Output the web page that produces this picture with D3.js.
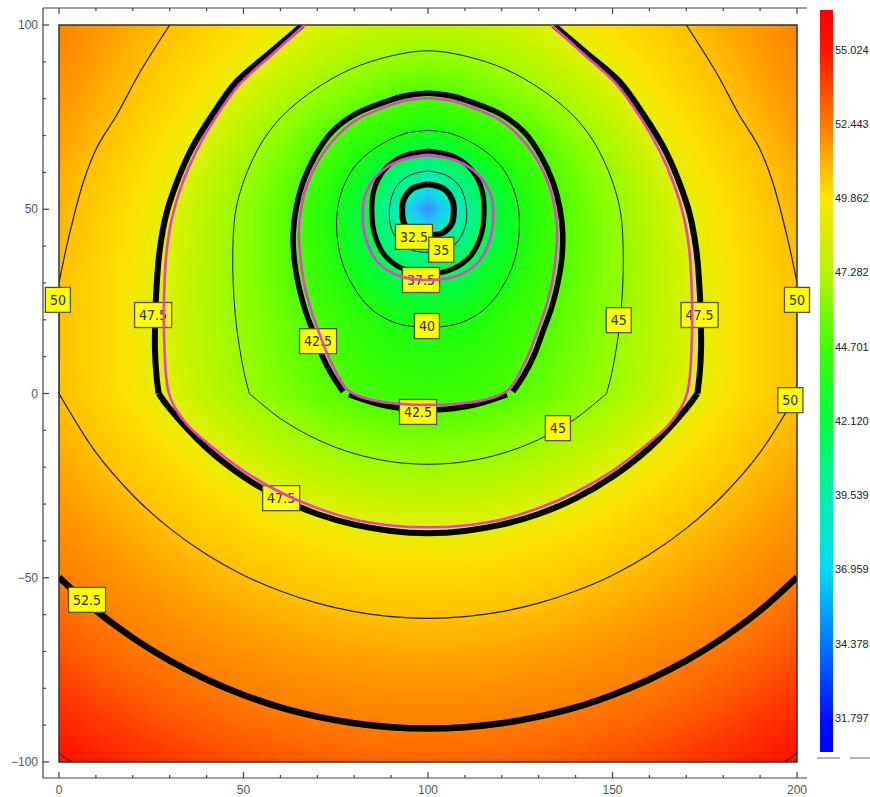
<!DOCTYPE html>
<html>
<head>
<meta charset="utf-8">
<script src="https://cdn.jsdelivr.net/npm/d3@7"></script>
<style>
  body { margin: 0; background: #fff; }
  svg { display: block; }
</style>
</head>
<body>
<script>

    // ---- data ----
    // grid sample positions (x across, y down the rows)
    const gridX = [0,10,20,30,40,50,60,70,80,90,100,110,120,130,140,150,160,170,180,190,200];
    const gridY = [100,90,80,70,60,50,40,30,20,10,0,-10,-20,-30,-40,-50,-60,-70,-80,-90,-100];

    // field values, one row per gridY
    const fieldRows = [
      [52.4,51.6,50.8,50.0,49.3,48.6,47.9,47.2,46.7,46.4,46.3,46.4,46.7,47.2,47.9,48.6,49.3,50.0,50.8,51.6,52.4],
      [52.1,51.25,50.35,49.5,48.65,47.8,47.0,46.2,45.45,44.7,44.35,44.7,45.45,46.2,47.0,47.8,48.65,49.5,50.35,51.25,52.1],
      [51.7,50.8,49.85,48.9,48.0,46.9,45.8,44.7,43.7,42.7,42.1,42.7,43.7,44.7,45.8,46.9,48.0,48.9,49.85,50.8,51.7],
      [51.3,50.3,49.3,48.3,47.27,45.95,44.55,43.0,41.7,40.6,39.4,40.6,41.7,43.0,44.55,45.95,47.27,48.3,49.3,50.3,51.3],
      [50.75,49.8,48.8,47.85,46.6,45.15,43.65,42.0,39.7,37.0,34.9,37.0,39.7,42.0,43.65,45.15,46.6,47.85,48.8,49.8,50.75],
      [50.5,49.45,48.45,47.35,46.05,44.65,43.1,41.15,38.7,34.8,30.6,34.8,38.7,41.15,43.1,44.65,46.05,47.35,48.45,49.45,50.5],
      [50.25,49.25,48.25,47.2,45.95,44.6,43.1,41.25,38.9,36.25,34.6,36.25,38.9,41.25,43.1,44.6,45.95,47.2,48.25,49.25,50.25],
      [50.0,49.05,48.1,47.1,45.85,44.6,43.2,41.65,40.0,38.3,37.85,38.3,40.0,41.65,43.2,44.6,45.85,47.1,48.1,49.05,50.0],
      [50.0,49.05,48.1,47.05,45.95,44.75,43.5,42.25,41.15,40.05,39.65,40.05,41.15,42.25,43.5,44.75,45.95,47.05,48.1,49.05,50.0],
      [50.0,49.05,48.1,47.1,46.0,44.95,43.8,42.7,41.7,41.05,40.8,41.05,41.7,42.7,43.8,44.95,46.0,47.1,48.1,49.05,50.0],
      [50.04,49.16,48.22,47.24,46.22,45.16,44.12,43.15,42.32,41.76,41.56,41.76,42.32,43.15,44.12,45.16,46.22,47.24,48.22,49.16,50.04],
      [50.51,49.70,48.86,48.00,47.12,46.24,45.40,44.65,44.03,43.63,43.49,43.63,44.03,44.65,45.40,46.24,47.12,48.00,48.86,49.70,50.51],
      [51.01,50.28,49.53,48.77,48.02,47.28,46.60,46.00,45.53,45.23,45.12,45.23,45.53,46.00,46.60,47.28,48.02,48.77,49.53,50.28,51.01],
      [51.53,50.87,50.21,49.54,48.89,48.28,47.71,47.23,46.86,46.62,46.54,46.62,46.86,47.23,47.71,48.28,48.89,49.54,50.21,50.87,51.53],
      [52.07,51.47,50.88,50.30,49.74,49.22,48.75,48.35,48.05,47.87,47.80,47.87,48.05,48.35,48.75,49.22,49.74,50.30,50.88,51.47,52.07],
      [52.61,52.08,51.55,51.04,50.55,50.11,49.71,49.38,49.13,48.98,48.93,48.98,49.13,49.38,49.71,50.11,50.55,51.04,51.55,52.08,52.61],
      [53.15,52.67,52.20,51.75,51.33,50.94,50.60,50.33,50.12,49.99,49.95,49.99,50.12,50.33,50.60,50.94,51.33,51.75,52.20,52.67,53.15],
      [53.69,53.25,52.83,52.44,52.06,51.73,51.44,51.20,51.02,50.92,50.88,50.92,51.02,51.20,51.44,51.73,52.06,52.44,52.83,53.25,53.69],
      [54.22,53.82,53.45,53.09,52.77,52.47,52.22,52.01,51.86,51.77,51.74,51.77,51.86,52.01,52.22,52.47,52.77,53.09,53.45,53.82,54.22],
      [54.73,54.38,54.04,53.72,53.43,53.17,52.95,52.77,52.64,52.56,52.53,52.56,52.64,52.77,52.95,53.17,53.43,53.72,54.04,54.38,54.73],
      [55.24,54.92,54.61,54.33,54.07,53.84,53.64,53.48,53.37,53.30,53.27,53.30,53.37,53.48,53.64,53.84,54.07,54.33,54.61,54.92,55.24]
    ];

    // contour lines, [x, y] in data units
    const thick325 = [[[100,56.8],[95.8,55.6],[93.4,52.5],[93,49.5],[93.6,46],[96,43.6],[100,43],[104,43.6],[106.4,46],[107,49.5],[106.6,52.5],[104.2,55.6],[100,56.8]]];
    const thin35 = [[[100,60.4],[95,59.2],[91.3,56],[89.6,50.5],[90,45],[92.4,40.8],[96,38.8],[100,38.3],[104,38.8],[107.6,40.8],[110,45],[110.4,50.5],[108.7,56],[105,59.2],[100,60.4]]];
    const thick375 = [[[100,65.8],[93,64.3],[88,60.5],[85.3,55],[84.8,49],[85.6,43],[88.3,37.5],[93.5,33.7],[100,32.5],[106.5,33.7],[111.7,37.5],[114.4,43],[115.2,49],[114.7,55],[112,60.5],[107,64.3],[100,65.8]]];
    const thin40 = [[[100,71.4],[94,70.6],[88,68],[82.6,64.2],[79,60],[76.4,54.2],[75.3,48.4],[75.5,41.5],[77,34.8],[79.8,29],[83.5,24],[88,20.6],[93.2,18.6],[100,18],[106.8,18.6],[112,20.6],[116.5,24],[120.2,29],[123,34.8],[124.5,41.5],[124.7,48.4],[123.6,54.2],[121,60],[117.4,64.2],[112,68],[106,70.6],[100,71.4]]];
    const thick425 = [
      [[77,0.5],[74,5],[71.2,10.5],[68.9,16.7],[66.6,23],[64.8,30],[63.7,37],[63.5,43.8],[64.3,50.5],[66,57],[69.3,64.3],[74,71],[80.3,75.8],[88,79],[94,80.8],[100,81.5],[106,80.8],[112,79],[119.7,75.8],[126,71],[130.7,64.3],[134,57],[135.7,50.5],[136.5,43.8],[136.3,37],[135.2,30],[133.4,23],[131.1,16.7],[128.8,10.5],[126,5],[123,0.5]],
      [[78.6,-0.3],[80,-0.8],[85,-2.45],[90,-3.6],[95,-4.3],[100,-4.5],[105,-4.3],[110,-3.6],[115,-2.45],[120,-0.8],[121.4,-0.3]]
    ];
    const thin45 = [[[51.6,0],[50.2,5.5],[49,12],[47.8,21],[47.2,30],[47.1,39],[47.7,48.4],[49.2,55],[51.8,62],[55.5,69],[60.7,75.5],[69,82.3],[79,88],[90,91.6],[100,93],[110,91.6],[121,88],[131,82.3],[139.3,75.5],[144.5,69],[148.2,62],[150.8,55],[152.3,48.4],[152.9,39],[152.8,30],[152.2,21],[151,12],[149.8,5.5],[148.4,0]],
      [[51.6,0],[60,-6.8],[70,-12.5],[80,-16.3],[90,-18.5],[100,-19.2],[110,-18.5],[120,-16.3],[130,-12.5],[140,-6.8],[148.4,0]]];
    const thick475 = [
      [[66,100],[57,92.3],[48,84.5],[41.5,75.5],[36,66.5],[32,57.5],[29,48.4],[27.3,39],[26.5,30],[26.1,21],[26,12],[26.4,5],[27,0]],
      [[27,0],[30,-4.1],[40,-14.8],[50,-22.6],[60,-28.45],[70,-32.7],[80,-35.6],[90,-37.3],[100,-37.9],[110,-37.3],[120,-35.6],[130,-32.7],[140,-28.45],[150,-22.6],[160,-14.8],[170,-4.1],[173,0]],
      [[173,0],[173.6,5],[174,12],[173.9,21],[173.5,30],[172.7,39],[171,48.4],[168,57.5],[164,66.5],[158.5,75.5],[152,84.5],[143,92.3],[134,100]]
    ];
    const thin50 = [
      [[30,100],[22,87.3],[15.6,75.5],[10.2,66.6],[6.6,57.4],[3,43.9],[1,35],[0,30]],
      [[0,30],[0,0]],
      [[0,0],[10,-16.0],[20,-27.6],[30,-36.6],[40,-43.7],[50,-49.3],[60,-53.6],[70,-56.9],[80,-59.2],[90,-60.55],[100,-61.0],[110,-60.55],[120,-59.2],[130,-56.9],[140,-53.6],[150,-49.3],[160,-43.7],[170,-36.6],[180,-27.6],[190,-16.0],[200,0]],
      [[200,0],[200,30]],
      [[200,30],[199,35],[197,43.9],[193.4,57.4],[189.8,66.6],[184.4,75.5],[178,87.3],[170,100]]
    ];
    const thick525 = [[[0,-49.9],[10,-58.9],[20,-66.3],[30,-72.5],[40,-77.6],[50,-81.8],[60,-85.2],[70,-87.7],[80,-89.5],[90,-90.55],[100,-90.9],[110,-90.55],[120,-89.5],[130,-87.7],[140,-85.2],[150,-81.8],[160,-77.6],[170,-72.5],[180,-66.3],[190,-58.9],[200,-49.9]]];
    const thin55 = [[[0,-97.5],[1.8,-99],[3.5,-100]], [[196.5,-100],[198.2,-99],[200,-97.5]]];

    // second (pink) set of curves
    const pink375 = [[100,64.7],[92.5,63.3],[86.5,59.5],[83,54],[82.3,48],[83.3,41.5],[86.5,35.5],[92.5,31.8],[100,30.8],[107.5,31.8],[113.5,35.5],[116.7,41.5],[117.7,48],[117,54],[113.5,59.5],[107.5,63.3],[100,64.7]];
    const pink425 = [[100,80.2],[94,79.5],[88,77.6],[80.5,74.2],[75,69.5],[70.2,63],[67.2,56.5],[65.6,50],[65,43.8],[65.4,37],[66.4,30],[68.2,23],[70.4,16.7],[72.8,10.5],[75.5,5],[78,1.2],[81,-0.6],[85,-1.8],[90,-2.6],[95,-3.0],[100,-3.1],[105,-3.0],[110,-2.6],[115,-1.8],[119,-0.6],[122,1.2],[124.5,5],[127.2,10.5],[129.6,16.7],[131.8,23],[133.6,30],[134.6,37],[135,43.8],[134.4,50],[132.8,56.5],[129.8,63],[125,69.5],[119.5,74.2],[112,77.6],[106,79.5],[100,80.2]];
    const pink475 = [[66.5,100],[57.7,92],[49,84],[42.5,75],[37.3,66],[33.4,57],[30.7,48],[29.2,39],[28.6,30],[28.4,21],[28.6,12],[29,5],[29.8,0],[31.5,-4],[35,-8.8],[40,-13.3],[50,-21],[60,-26.8],[70,-31.1],[80,-34.2],[90,-35.8],[100,-36.3],[110,-35.8],[120,-34.2],[130,-31.1],[140,-26.8],[150,-21],[160,-13.3],[165,-8.8],[168.5,-4],[170.2,0],[171,5],[171.4,12],[171.6,21],[171.4,30],[170.8,39],[169.3,48],[166.6,57],[162.7,66],[157.5,75],[151,84],[142.3,92],[133.5,100]];

    // contour labels
    const labels = [
      {t:"32.5", x:96.2, y:42.5}, {t:"35", x:103.6, y:39.0}, {t:"37.5", x:98.1, y:30.8},
      {t:"40", x:99.7, y:18.3}, {t:"42.5", x:70.2, y:14.2}, {t:"42.5", x:97.3, y:-5.0},
      {t:"45", x:151.7, y:19.9}, {t:"45", x:135.2, y:-9.4},
      {t:"47.5", x:25.5, y:21.3}, {t:"47.5", x:173.6, y:21.3}, {t:"47.5", x:60.2, y:-28.4},
      {t:"50", x:-0.3, y:25.4}, {t:"50", x:200, y:25.4}, {t:"50", x:198.2, y:-1.8},
      {t:"52.5", x:7.6, y:-56}
    ];

    // axis ticks
    const xMajor = [0,50,100,150,200];
    const xMinor = [10,20,30,40,60,70,80,90,110,120,130,140,160,170,180,190];
    const yMajor = [-100,-50,0,50,100];
    const yMinor = [-90,-80,-70,-60,-40,-30,-20,-10,10,20,30,40,60,70,80,90];
    const yTickText = ["\u2212100","\u221250","0","50","100"];

    // legend ticks
    const legendTicks = [31.797,34.378,36.959,39.539,42.120,44.701,47.282,49.862,52.443,55.024];

    // colours of the field as seen around each contour level
    const fieldStops = [30.6, 32.5, 34, 36, 38, 40, 42, 44, 46, 47.5, 48.5, 50, 51.2, 52.5, 53.5, 55.3];
    const fieldHex = ["#3a8cff","#1ecdf5","#00eec8","#00f580","#00fc45","#18ff12","#40ff00","#7cff00","#b8f700","#e4f000","#ffe000","#ffc200","#ffa000","#ff8000","#ff5c00","#ff0a00"];

    // colours of the legend bar
    const legendStops = [30.62, 31.8, 34.38, 36.96, 39.54, 42.12, 44.7, 47.28, 49.86, 52.44, 55.02, 56.41];
    const legendHex = ["#0000ff","#0010ff","#0078ff","#00dcf5","#00f0a8","#00ff40","#3cff00","#b4f500","#ffe600","#ff7a00","#ff1400","#ff0000"];

    // ---- drawing ----
    var svg = d3.select("body").append("svg")
      .attr("width", 870)
      .attr("height", 797);

    var x = d3.scaleLinear().domain([0, 200]).range([59, 797]);
    var y = d3.scaleLinear().domain([-100, 100]).range([762, 25]);
    var color = d3.scaleLinear().domain(fieldStops).range(fieldHex).clamp(true);

    svg.append("clipPath").attr("id", "plotclip")
      .append("rect")
      .attr("x", x(0)).attr("y", y(100))
      .attr("width", x(200) - x(0)).attr("height", y(-100) - y(100));

    var plot = svg.append("g").attr("clip-path", "url(#plotclip)");

    // filled field from the grid, via d3.contours (grid index i sits at i + 0.5)
    var gx = d3.scaleLinear().domain([0.5, gridX.length - 0.5]).range([x(gridX[0]), x(gridX[gridX.length - 1])]);
    var gy = d3.scaleLinear().domain([0.5, gridY.length - 0.5]).range([y(gridY[0]), y(gridY[gridY.length - 1])]);
    var gridPath = d3.geoPath(d3.geoTransform({
      point: function(px, py) { this.stream.point(gx(px), gy(py)); }
    }));

    var values = [].concat.apply([], fieldRows);
    var bandStep = 0.1;
    var bands = d3.contours()
      .size([gridX.length, gridY.length])
      .thresholds(d3.range(30.5, 55.4, bandStep))(values);

    plot.append("g").selectAll("path")
      .data(bands)
      .join("path")
      .attr("d", gridPath)
      .attr("fill", function(d) { return color(d.value + bandStep / 2); })
      .attr("stroke", "none");

    var lineFunction = d3.line()
      .x(function(d) { return x(d[0]); })
      .y(function(d) { return y(d[1]); })
      .curve(d3.curveCatmullRom.alpha(0.5));

    function drawLines(parts, width, stroke) {
      parts.forEach(function(p) {
        plot.append("path")
          .attr("d", lineFunction(p))
          .attr("fill", "none")
          .attr("stroke", stroke)
          .attr("stroke-width", width)
          .attr("stroke-linecap", "butt")
          .attr("stroke-linejoin", "round");
      });
    }

    drawLines(thin35, 1, "#1a1a1a");
    drawLines(thin40, 1, "#1a1a1a");
    drawLines(thin45, 1, "#1a1a1a");
    drawLines(thin50, 1.2, "#1a1a1a");
    drawLines(thin55, 1, "#1a1a1a");
    drawLines(thick325, 6, "#000");
    drawLines(thick375, 5, "#000");
    drawLines(thick425, 5.5, "#000");
    drawLines(thick475, 6, "#000");
    drawLines(thick525, 6.5, "#000");

    // border of the image
    svg.append("rect")
      .attr("x", x(0)).attr("y", y(100))
      .attr("width", x(200) - x(0)).attr("height", y(-100) - y(100))
      .attr("fill", "none").attr("stroke", "#333").attr("stroke-width", 1.5);

    // contour labels
    var lab = svg.append("g").selectAll("g")
      .data(labels)
      .join("g")
      .attr("transform", function(d) { return "translate(" + x(d.x) + "," + y(d.y) + ")"; });

    lab.append("rect").attr("class", "box");
    lab.append("text")
      .attr("text-anchor", "middle")
      .attr("dy", "0.36em")
      .attr("font-family", "'Liberation Sans Narrow', 'DejaVu Sans Condensed', sans-serif")
      .attr("font-size", 14)
      .attr("fill", "#2a2a2a")
      .text(function(d) { return d.t; });

    lab.each(function() {
      var g = d3.select(this);
      var w = g.select("text").node().getComputedTextLength();
      g.select("rect")
        .attr("x", -(w + 9) / 2).attr("y", -12.5)
        .attr("width", w + 9).attr("height", 25)
        .attr("fill", "#ffff00")
        .attr("stroke", "#55551a")
        .attr("stroke-width", 1.3);
    });

    // pink curves sit on top of the labels
    var pinkG = svg.append("g").attr("clip-path", "url(#plotclip)");
    [pink375, pink425, pink475].forEach(function(p) {
      pinkG.append("path")
        .attr("d", lineFunction(p))
        .attr("fill", "none")
        .attr("stroke", "#e63fd2")
        .attr("stroke-width", 2.6);
    });

    // frame
    var frame = svg.append("g").attr("stroke", "#444").attr("stroke-width", 1.2);
    frame.append("line").attr("x1", 43).attr("x2", 43).attr("y1", 8).attr("y2", 778);
    frame.append("line").attr("x1", 43).attr("x2", 807).attr("y1", 778).attr("y2", 778);
    frame.append("line").attr("x1", 43).attr("x2", 807).attr("y1", 8).attr("y2", 8);

    xMajor.forEach(function(v) {
      frame.append("line").attr("x1", x(v)).attr("x2", x(v)).attr("y1", 778).attr("y2", 772);
      frame.append("line").attr("x1", x(v)).attr("x2", x(v)).attr("y1", 8).attr("y2", 14);
    });
    xMinor.forEach(function(v) {
      frame.append("line").attr("x1", x(v)).attr("x2", x(v)).attr("y1", 778).attr("y2", 775);
      frame.append("line").attr("x1", x(v)).attr("x2", x(v)).attr("y1", 8).attr("y2", 11);
    });
    yMajor.forEach(function(v) {
      frame.append("line").attr("x1", 43).attr("x2", 49).attr("y1", y(v)).attr("y2", y(v));
    });
    yMinor.forEach(function(v) {
      frame.append("line").attr("x1", 43).attr("x2", 46).attr("y1", y(v)).attr("y2", y(v));
    });

    svg.append("g").selectAll("text")
      .data(xMajor)
      .join("text")
      .attr("x", function(d) { return x(d); })
      .attr("y", 794)
      .attr("text-anchor", "middle")
      .attr("font-family", "'Liberation Sans', sans-serif")
      .attr("font-size", 12)
      .attr("fill", "#555")
      .text(function(d) { return d; });

    svg.append("g").selectAll("text")
      .data(yMajor)
      .join("text")
      .attr("x", 38)
      .attr("y", function(d) { return y(d); })
      .attr("dy", "0.35em")
      .attr("text-anchor", "end")
      .attr("font-family", "'Liberation Sans', sans-serif")
      .attr("font-size", 12)
      .attr("fill", "#555")
      .text(function(d, i) { return yTickText[i]; });

    // legend bar
    var cb = d3.scaleLinear().domain([30.62, 56.41]).range([752, 10]);
    var grad = svg.append("defs").append("linearGradient")
      .attr("id", "ramp").attr("x1", 0).attr("y1", 1).attr("x2", 0).attr("y2", 0);
    grad.selectAll("stop")
      .data(legendStops)
      .join("stop")
      .attr("offset", function(d) { return (d - 30.62) / (56.41 - 30.62); })
      .attr("stop-color", function(d, i) { return legendHex[i]; });

    svg.append("rect")
      .attr("x", 820).attr("y", cb(56.41))
      .attr("width", 13).attr("height", cb(30.62) - cb(56.41))
      .attr("fill", "url(#ramp)");

    svg.append("g").selectAll("text")
      .data(legendTicks)
      .join("text")
      .attr("x", 835)
      .attr("y", function(d) { return cb(d); })
      .attr("dy", "0.35em")
      .attr("font-family", "'Liberation Sans', sans-serif")
      .attr("font-size", 11)
      .attr("fill", "#222")
      .text(function(d) { return d.toFixed(3); });

    svg.append("line").attr("x1", 817).attr("x2", 840).attr("y1", 758).attr("y2", 758).attr("stroke", "#666");
    svg.append("line").attr("x1", 850).attr("x2", 870).attr("y1", 758).attr("y2", 758).attr("stroke", "#666");

</script>
</body>
</html>
